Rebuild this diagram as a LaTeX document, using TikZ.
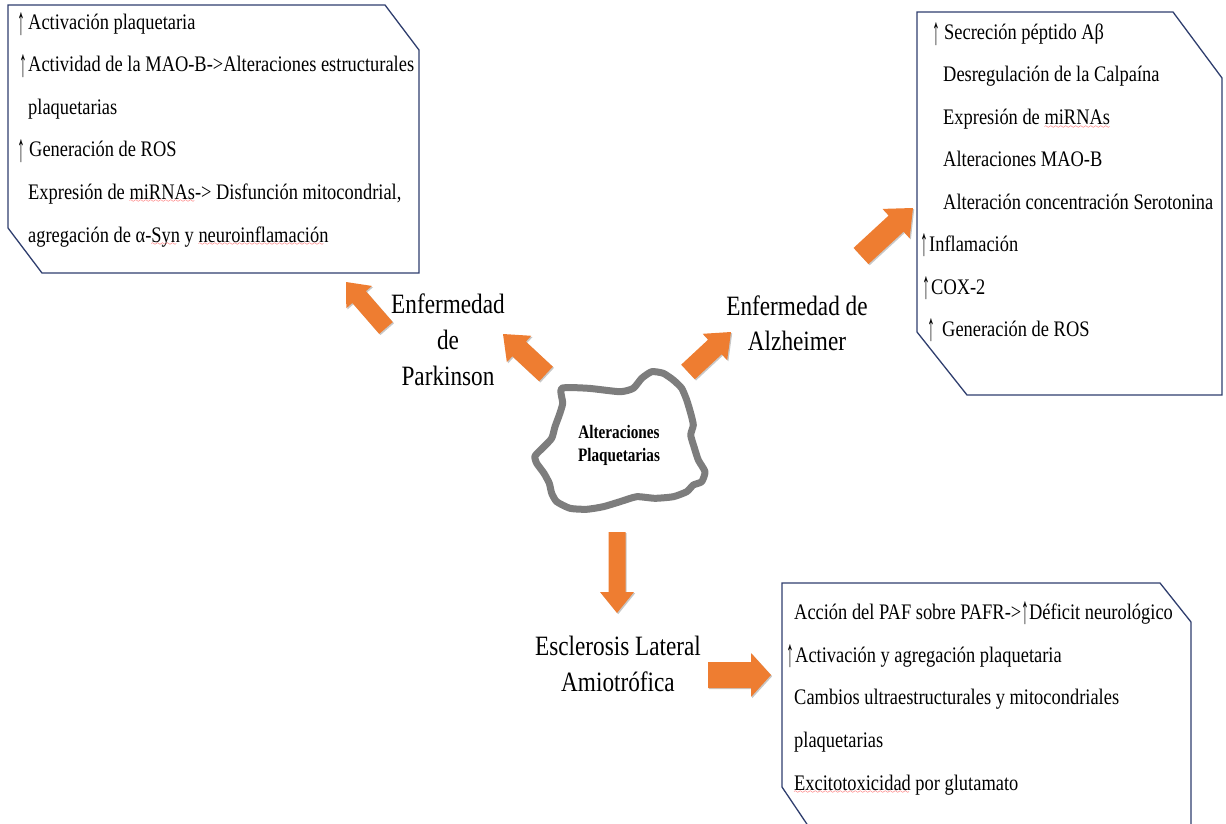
\documentclass[tikz,border=0pt]{standalone}
\usepackage{fontspec}
\setmainfont[FakeStretch=0.83]{Liberation Serif}
\newfontfamily\blobfont[FakeStretch=0.8]{Liberation Serif}
\usetikzlibrary{calc,shadows}
\definecolor{boxline}{RGB}{47,62,110}
\definecolor{arrorange}{RGB}{238,125,49}
\definecolor{blobgray}{RGB}{125,125,125}
\font\mywavefont=lasy6
\newcommand\redwave[1]{\setbox0\hbox{#1}\rlap{\lower3pt\hbox to\wd0{\color{red}\leaders\hbox{\mywavefont\char58}\hfil}}\box0\relax}
\newcommand\up{\raisebox{-4.5pt}{\scalebox{0.85}[1.75]{\bfseries ↑}}}
\newcommand\blockarr[6]{%
  \coordinate (#1t) at #2;
  \coordinate (#1p) at #3;
  \coordinate (#1h) at ($(#1p)!#6!(#1t)$);
  \fill[arrowfill] ($(#1t)!#4!90:(#1p)$) -- ($(#1h)!#4!90:(#1p)$) -- ($(#1h)!#5!90:(#1p)$) -- (#1p)
    -- ($(#1h)!#5!-90:(#1p)$) -- ($(#1h)!#4!-90:(#1p)$) -- ($(#1t)!#4!-90:(#1p)$) -- cycle;}
\begin{document}
\begin{tikzpicture}[x=1pt,y=-1pt,
  boxtext/.style={anchor=base west, inner sep=0pt, font=\fontsize{22.2}{26}\selectfont},
  lbl/.style={anchor=north, align=center, inner sep=0pt, font=\fontsize{28}{36}\selectfont},
  arrowfill/.style={fill=arrorange, drop shadow={shadow xshift=1.2pt, shadow yshift=-1.2pt, opacity=0.22, fill=black}},
  infobox/.style={draw=boxline, line width=1.3pt, fill=white, line join=miter}]
\useasboundingbox (0,0) rectangle (1226,824);
\clip (0,0) rectangle (1226,824);

% Parkinson box
\draw[infobox] (8,5) -- (385,5) -- (419,50) -- (419,273) -- (42,273) -- (8,228) -- cycle;
\node[boxtext] (p1) at (28,30) {\llap{\up\hspace{2.5pt}}Activación plaquetaria};
\node[boxtext] (p2) at (28,72) {\llap{\up\hspace{1pt}}Actividad de la MAO-B->Alteraciones estructurales};
\node[boxtext] (p3) at (28,115) {plaquetarias};
\node[boxtext] (p4) at (29,157) {\llap{\up\hspace{3.5pt}}Generación de ROS};
\node[boxtext] (p5) at (28,199) {Expresión de \redwave{miRNAs}-> Disfunción mitocondrial,};
\node[boxtext] (p6) at (28,242) {agregación de α-\redwave{Syn} y \redwave{neuroinflamación}};

% Alzheimer box
\draw[infobox] (917,12) -- (1173,12) -- (1222,78) -- (1222,395) -- (967,395) -- (917,332) -- cycle;
\node[boxtext] (a1) at (944,40) {\llap{\up\hspace{4pt}}Secreción péptido Aβ};
\node[boxtext] (a2) at (943,82) {Desregulación de la Calpaína};
\node[boxtext] (a3) at (943,125) {Expresión de \redwave{miRNAs}};
\node[boxtext] (a4) at (943,167) {Alteraciones MAO-B};
\node[boxtext] (a5) at (943,209) {Alteración concentración Serotonina};
\node[boxtext] (a6) at (929,251) {\llap{\up\hspace{0.5pt}}Inflamación};
\node[boxtext] (a7) at (931,294) {\llap{\up\hspace{1pt}}COX-2};
\node[boxtext] (a8) at (942,336) {\llap{\up\hspace{7pt}}Generación de ROS};

% ALS box
\draw[infobox] (782,583) -- (1160,583) -- (1191,622) -- (1191,845) -- (821,845) -- (782,787) -- cycle;
\node[boxtext] (e1) at (794,619) {Acción del PAF sobre PAFR->\up Déficit neurológico};
\node[boxtext] (e2) at (795,662) {\llap{\up\hspace{0.5pt}}Activación y agregación plaquetaria};
\node[boxtext] (e3) at (794,704) {Cambios ultraestructurales y mitocondriales};
\node[boxtext] (e4) at (794,747) {plaquetarias};
\node[boxtext] (e5) at (794,790) {\redwave{Excitotoxicidad} por glutamato};

% central blob
\draw[blobgray, line width=7pt, line join=round] plot[smooth cycle, tension=0.35] coordinates {
 (561.7,388.3) (588.3,388.3) (620,391.7) (633.3,388.3) (641.7,378.3) (651.7,371.7) (663.3,373.3)
 (673.3,380) (681.7,388.3) (686.7,400) (690.7,413.3) (693.3,425) (690.7,435) (694,446.7)
 (698.3,460) (705,471.7) (701.7,481.7) (693.3,485) (686.7,491.7) (673.3,496.7) (655,498.3)
 (636.7,496.7) (620,501.7) (603.3,506.7) (586.7,509.3) (570,508.3) (556.7,501.7) (551.7,493.3)
 (549.3,483.3) (544,473.3) (536.7,463.3) (535,456) (543.3,447.3) (551.7,438.3) (555,426.7)
 (559.3,415) (562.7,403.3)};
\node[anchor=north, align=center, inner sep=0pt, font=\blobfont\bfseries\fontsize{19}{23}\selectfont] (blob) at (619,425) {Alteraciones\\Plaquetarias};

% labels
\node[lbl] (pd) at (448,294) {Enfermedad\\de\\Parkinson};
\node[lbl, font=\fontsize{28}{35}\selectfont] (ad) at (797,296) {Enfermedad de\\Alzheimer};
\node[lbl] (als) at (618,636) {Esclerosis Lateral\\Amiotrófica};

% block arrows
\blockarr{ar1}{(386,328)}{(346,282)}{9pt}{17pt}{20pt}
\blockarr{ar2}{(546,374)}{(503,334)}{10pt}{18pt}{22pt}
\blockarr{ar3}{(688,372)}{(731,332)}{10pt}{18pt}{22pt}
\blockarr{ar4}{(861,256)}{(913,208)}{11pt}{20pt}{23pt}
\blockarr{ar5}{(617,532)}{(617,613)}{8.5pt}{17pt}{21pt}
\blockarr{ar6}{(708,675)}{(771,675)}{13pt}{22pt}{20pt}
\end{tikzpicture}
\end{document}
